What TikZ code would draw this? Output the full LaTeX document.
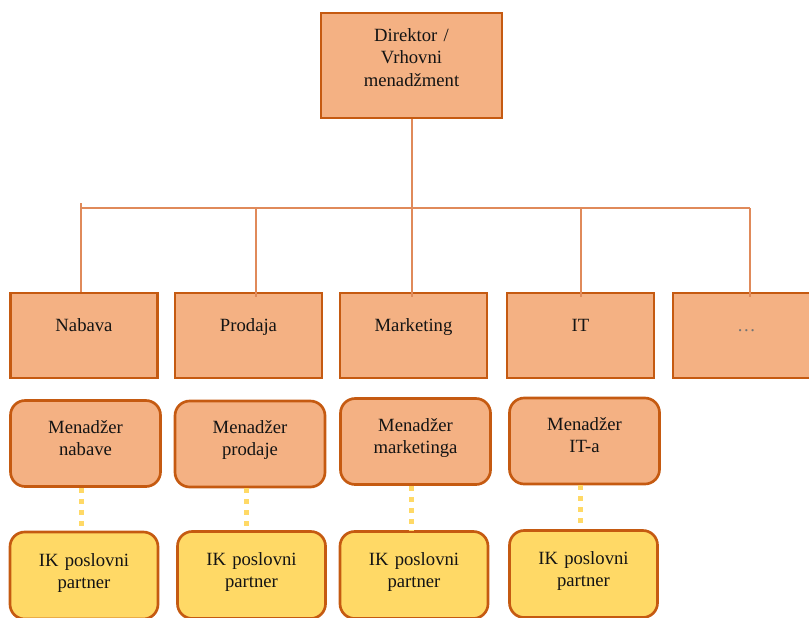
\documentclass[tikz,border=0pt]{standalone}
\usepackage{fontspec}
\setmainfont{Liberation Serif}
\usetikzlibrary{positioning,calc}

\definecolor{boxfill}{HTML}{F4B183}
\definecolor{boxline}{HTML}{C55A11}
\definecolor{ikfill}{HTML}{FFD966}
\definecolor{linkline}{HTML}{E08A5A}
\definecolor{dotline}{HTML}{FFD966}
\definecolor{boxtext}{HTML}{141414}

\begin{document}
\begin{tikzpicture}[x=0.75pt,y=-0.75pt,
  font=\fontsize{14pt}{16.5pt}\selectfont,
  every node/.style={inner sep=0pt, align=center, text=boxtext, text height=10.5pt},
  box/.style={draw=boxline, line width=2pt, fill=boxfill},
  dirbox/.style={box, minimum width=135.75pt, minimum height=78.75pt, text width=130pt, text depth=45.75pt},
  deptbox/.style={box, minimum width=110.25pt, minimum height=63.75pt, text width=105pt, text depth=17.25pt},
  mgrbox/.style={box, rounded corners=11pt, minimum width=112.5pt, minimum height=64.5pt, text width=105pt, text depth=26pt},
  ikbox/.style={mgrbox, fill=ikfill, minimum width=111pt, minimum height=65.25pt, text depth=24.5pt},
  link/.style={draw=linkline, line width=1.5pt},
  dotlink/.style={draw=dotline, line width=3.75pt, dash pattern=on 3.75pt off 4.5pt}
]
\useasboundingbox (0,0) rectangle (809,617);

\node[dirbox] (dir) at (411.5,65.5) {Direktor /\\Vrhovni\\menadžment};

\node[deptbox] (nab) at (84,335.5) {Nabava};
\node[deptbox] (prod) at (248.5,335.5) {Prodaja};
\node[deptbox] (mkt) at (413.5,335.5) {Marketing};
\node[deptbox] (it) at (580.5,335.5) {IT};
\node[deptbox, text=black!55] (more) at (746.5,335.5) {…};

\node[mgrbox] (mnab) at (85.5,443.5) {Menadžer\\nabave};
\node[mgrbox] (mprod) at (250,444) {Menadžer\\prodaje};
\node[mgrbox] (mmkt) at (415.5,441.5) {Menadžer\\marketinga};
\node[mgrbox] (mit) at (584.5,441) {Menadžer\\IT-a};

\node[ikbox] (iknab) at (84,575.5) {IK poslovni\\partner};
\node[ikbox] (ikprod) at (251.5,575) {IK poslovni\\partner};
\node[ikbox] (ikmkt) at (414,575) {IK poslovni\\partner};
\node[ikbox] (ikit) at (583.5,574) {IK poslovni\\partner};

\coordinate (bus) at (411.5,208);

\draw[link] (dir.south) -- ($(dir.south |- mkt.north)+(0,5)$);
\draw[link] ($(nab.north)+(-3,0)$) -- ($(nab.north |- bus)+(-3,-5)$);
\draw[link] ($(nab.north |- bus)+(-3,0)$) -- ($(more.north |- bus)+(3.5,0)$);
\draw[link] ($(prod.north)+(7.5,5)$) -- ($(prod.north |- bus)+(7.5,0)$);
\draw[link] ($(it.north)+(0,5)$) -- (it.north |- bus);
\draw[link] ($(more.north)+(3.5,5)$) -- ($(more.north |- bus)+(3.5,0)$);

\foreach \a/\b in {mnab/iknab, mprod/ikprod, mmkt/ikmkt, mit/ikit}
  \draw[dotlink] ($(\a.south)+(-4,0)$) -- ($(\a.south |- \b.north)+(-4,0)$);

\end{tikzpicture}
\end{document}
